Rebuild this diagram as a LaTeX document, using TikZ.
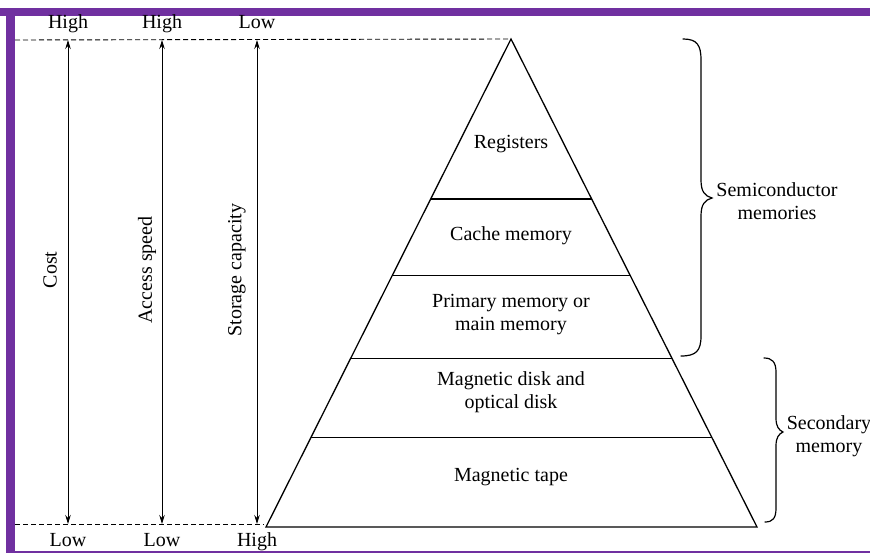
\documentclass[tikz,border=0pt]{standalone}
\usepackage{fontspec}
\setmainfont{Liberation Serif}
\usetikzlibrary{arrows.meta,calc}
\definecolor{framepurple}{HTML}{7030A0}
\begin{document}
\begin{tikzpicture}[x=1pt,y=-1pt,
  lbl/.style={font=\fontsize{20}{23}\selectfont, inner sep=0pt, align=center},
  dashln/.style={dash pattern=on 5pt off 3pt, line width=0.9pt},
  dblarrow/.style={{Stealth[length=9pt,width=5.5pt]}-{Stealth[length=9pt,width=5.5pt]}, line width=1pt},
  pyr/.style={line width=1.3pt, line join=miter},
  bracepath/.style={line width=1.2pt, line cap=round}]
\useasboundingbox (0,0) rectangle (870,553);
\fill[white] (0,0) rectangle (870,553);
% frame
\fill[framepurple] (0,8) rectangle (870,16.5);
\fill[framepurple] (6,8) rectangle (14.5,553);
\fill[framepurple] (6,550.5) rectangle (870,553);

% pyramid corners
\coordinate (apex) at (511,39);
\coordinate (bl) at (266,527);
\coordinate (br) at (757,527);

% dashed guide lines
\coordinate (dtl) at (15,40);
\coordinate (dbl) at (15,524);
\coordinate (dbr) at (264,524);
\draw[dashln] (dtl) -- (apex);
\draw[dashln] (dbl) -- (dbr);

% end labels
\node[lbl, anchor=base] (hC) at (68,29) {High};
\node[lbl, anchor=base] (hA) at (162,29) {High};
\node[lbl, anchor=base] (hS) at (257,29) {Low};
\node[lbl, anchor=base] (lC) at (68,546) {Low};
\node[lbl, anchor=base] (lA) at (162,546) {Low};
\node[lbl, anchor=base] (lS) at (257,546) {High};

% arrows
\coordinate (tC) at (68,40);  \coordinate (bC) at (68,524);
\coordinate (tA) at (162,40); \coordinate (bA) at (162,524);
\coordinate (tS) at (257,40); \coordinate (bS) at (257,524);
\draw[dblarrow] (tC) -- (bC);
\draw[dblarrow] (tA) -- (bA);
\draw[dblarrow] (tS) -- (bS);

\node[lbl, rotate=90] (cost) at (50,270) {Cost};
\node[lbl, rotate=90] (speed) at (147,270) {Access speed};
\node[lbl, rotate=90] (cap) at (237,270) {Storage capacity};

% pyramid
\draw[pyr] (apex) -- (bl) -- (br) -- cycle;
\draw[pyr] ($(apex)!0.328!(bl)$) -- ($(apex)!0.328!(br)$);
\draw[pyr] ($(apex)!0.484!(bl)$) -- ($(apex)!0.484!(br)$);
\draw[pyr] ($(apex)!0.654!(bl)$) -- ($(apex)!0.654!(br)$);
\draw[pyr] ($(apex)!0.816!(bl)$) -- ($(apex)!0.816!(br)$);

\node[lbl] (reg) at (511,144) {Registers};
\node[lbl] (cache) at (511,236) {Cache memory};
\node[lbl] (prim) at (511,315) {Primary memory or\\main memory};
\node[lbl] (disk) at (511,392) {Magnetic disk and\\optical disk};
\node[lbl] (tape) at (511,477) {Magnetic tape};

% braces
\draw[bracepath] (683,39) .. controls (697,39) and (701,45) .. (701,60)
  -- (701,180) .. controls (701,192) and (705,196) .. (712,198)
  .. controls (705,200) and (701,204) .. (701,216)
  -- (701,336) .. controls (701,351) and (696,356) .. (681,356);
\node[lbl] (semi) at (777,201) {Semiconductor\\memories};

\draw[bracepath] (764,358) .. controls (772,358) and (776,362) .. (776,372)
  -- (776,418) .. controls (776,427) and (779,430) .. (783,432)
  .. controls (779,434) and (776,437) .. (776,446)
  -- (776,508) .. controls (776,518) and (773,522) .. (765,522);
\node[lbl] (sec) at (829,436) {Secondary\\memory};
\end{tikzpicture}
\end{document}
